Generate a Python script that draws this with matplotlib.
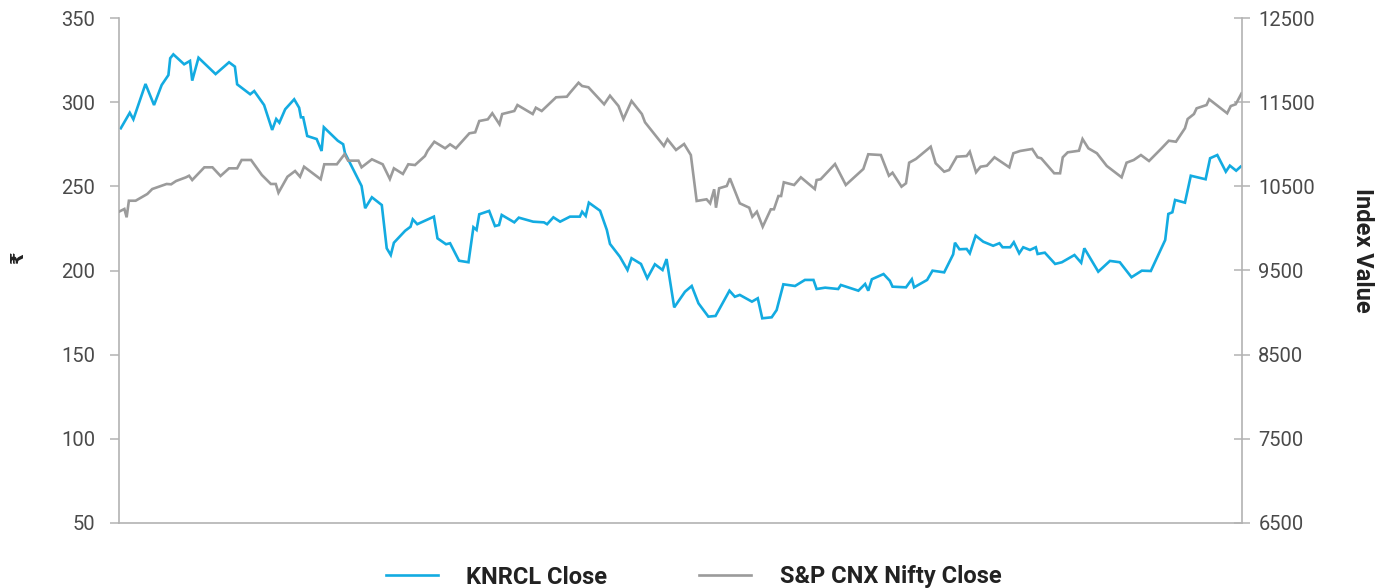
import matplotlib
matplotlib.use("Agg")
import matplotlib.pyplot as plt
from matplotlib.lines import Line2D

# ---------------- data (trading-day index, close values) ----------------
knrcl_day = [0.4, 2.4, 3.2, 5.9, 7.8, 9.5, 11.0, 11.4, 12.1, 14.5, 15.8, 16.3, 17.7, 21.5, 24.5,
             25.8, 26.3, 29.2, 30.1, 32.3, 34.1, 35.0, 35.7, 37.0, 39.0, 40.1, 40.5, 41.0, 41.9, 44.0,
             45.1, 45.6, 48.7, 49.9, 50.3, 54.0, 54.8, 56.3, 58.5, 59.6, 60.5, 61.2, 63.7, 64.9, 65.4,
             66.4, 70.1, 70.9, 72.8, 73.7, 75.7, 77.8, 78.9, 79.6, 80.2, 82.4, 83.7, 84.6, 85.2, 88.0,
             89.0, 92.2, 94.6, 95.3, 96.7, 98.2, 100.4, 102.6, 103.1, 103.9, 104.6, 107.1, 108.6, 109.3,
             111.5, 113.2, 114.1, 116.2, 117.6, 119.3, 121.0, 121.9, 123.6, 126.0, 127.5, 129.0, 131.2,
             132.8, 135.9, 137.1, 138.2, 140.9, 142.2, 143.2, 145.3, 146.4, 147.9, 150.5, 152.7, 154.6,
             155.3, 157.2, 160.1, 160.7, 164.6, 166.1, 166.8, 167.6, 170.2, 171.6, 172.2, 175.2, 176.5,
             177.0, 179.9, 181.1, 183.7, 185.7, 186.1, 187.1, 188.7, 189.4, 190.7, 192.4, 194.6, 196.0,
             196.7, 198.4, 199.2, 200.4, 201.3, 202.8, 204.1, 204.5, 206.1, 208.4, 209.9, 212.7, 214.2,
             214.9, 218.0, 220.6, 222.8, 225.4, 227.7, 229.7, 232.9, 233.6, 234.5, 235.1, 237.3, 238.6,
             241.9, 242.9, 244.5, 246.4, 247.3, 248.7, 249.7]
knrcl_close = [284.5, 293.7, 289.8, 310.8, 298.3, 310.2, 316.1, 326.1, 328.4, 322.5, 324.5, 312.8,
               326.4, 316.7, 323.7, 321.1, 310.6, 304.7, 306.6, 298.3, 283.5, 290.0, 287.8, 295.8,
               301.7, 296.7, 291.0, 291.0, 279.9, 278.1, 271.0, 285.1, 277.1, 275.0, 269.8, 250.2,
               237.0, 243.5, 238.9, 213.2, 209.2, 216.5, 223.6, 226.0, 230.4, 227.5, 232.0, 219.1,
               215.6, 216.2, 205.8, 204.9, 225.7, 224.1, 233.4, 235.4, 226.4, 227.0, 233.0, 228.6,
               231.4, 229.0, 228.6, 227.5, 231.6, 229.0, 232.0, 232.0, 234.9, 232.4, 240.3, 235.5,
               224.1, 215.8, 208.2, 200.3, 207.3, 203.9, 195.4, 203.7, 200.3, 206.8, 178.1, 187.4,
               190.8, 180.5, 172.6, 173.0, 188.0, 184.4, 185.5, 181.5, 183.5, 171.6, 172.2, 176.5,
               191.8, 190.8, 194.4, 194.4, 189.0, 189.8, 189.0, 191.4, 188.0, 192.0, 188.0, 194.8,
               197.9, 193.9, 190.4, 190.0, 194.8, 190.0, 194.4, 199.9, 198.9, 209.6, 216.5, 212.6,
               212.8, 210.2, 220.7, 217.1, 214.7, 216.2, 213.8, 213.8, 216.8, 210.2, 213.8, 212.2,
               213.8, 209.8, 210.6, 203.9, 204.9, 209.2, 204.6, 213.2, 199.3, 205.7, 204.9, 196.0,
               199.9, 199.7, 218.1, 233.6, 234.6, 241.9, 240.3, 256.3, 254.2, 266.7, 268.6, 258.7,
               262.3, 259.3, 261.7]

nifty_day = [0.0, 1.2, 1.7, 2.2, 3.7, 6.3, 7.4, 10.6, 11.6, 12.7, 14.9, 15.6, 16.3, 19.0, 20.8, 22.6,
             24.5, 26.3, 27.3, 29.4, 31.8, 33.8, 34.9, 35.5, 37.5, 39.2, 40.3, 41.2, 44.9, 45.7, 48.5,
             50.2, 51.0, 53.3, 54.0, 56.3, 58.7, 60.3, 61.2, 63.2, 64.4, 65.9, 68.1, 68.7, 70.2, 72.6,
             73.7, 75.0, 78.0, 79.3, 80.2, 82.1, 83.1, 84.7, 85.3, 88.0, 88.7, 92.1, 92.8, 94.1, 97.3,
             99.7, 100.4, 102.3, 103.1, 104.5, 108.0, 109.3, 111.2, 112.3, 114.1, 116.4, 117.1, 121.3,
             122.1, 124.0, 125.8, 127.3, 128.6, 130.8, 131.6, 132.5, 132.9, 133.6, 135.3, 136.0, 138.2,
             140.3, 141.0, 142.0, 143.3, 145.1, 145.8, 146.8, 147.4, 148.0, 150.3, 151.8, 154.9, 155.3,
             156.2, 159.4, 161.8, 165.7, 166.8, 169.6, 171.4, 172.2, 174.2, 175.2, 175.9, 177.4, 180.7,
             181.8, 183.7, 184.8, 186.5, 188.7, 189.4, 190.8, 191.8, 193.2, 194.9, 198.2, 199.1, 200.6,
             203.3, 204.5, 205.3, 208.2, 209.5, 210.1, 211.2, 213.7, 214.5, 215.8, 217.7, 219.9, 223.2,
             224.3, 225.9, 227.5, 229.3, 232.1, 233.7, 235.3, 237.3, 237.9, 239.3, 239.9, 242.1, 242.7,
             246.7, 247.5, 248.6, 249.9]
nifty_close = [10199, 10231, 10132, 10329, 10329, 10409, 10468, 10528, 10524, 10563, 10607, 10626,
               10575, 10726, 10726, 10623, 10714, 10714, 10813, 10813, 10635, 10528, 10528, 10424,
               10614, 10682, 10614, 10733, 10584, 10762, 10762, 10881, 10805, 10805, 10726, 10821,
               10762, 10587, 10714, 10647, 10762, 10753, 10860, 10923, 11030, 10952, 10999, 10952,
               11130, 11142, 11276, 11296, 11368, 11237, 11359, 11395, 11466, 11359, 11434, 11395,
               11558, 11565, 11612, 11731, 11692, 11677, 11475, 11577, 11454, 11300, 11514, 11359,
               11261, 10979, 11059, 10932, 11003, 10872, 10326, 10346, 10298, 10465, 10246, 10477,
               10504, 10595, 10298, 10246, 10139, 10199, 10020, 10227, 10227, 10385, 10385, 10548,
               10516, 10607, 10468, 10575, 10584, 10765, 10516, 10706, 10881, 10872, 10626, 10662,
               10496, 10536, 10781, 10825, 10971, 10774, 10674, 10694, 10852, 10860, 10912, 10667,
               10733, 10745, 10845, 10726, 10893, 10920, 10944, 10845, 10833, 10655, 10655, 10845,
               10904, 10923, 11062, 10952, 10893, 10742, 10607, 10781, 10813, 10872, 10801, 10952,
               11042, 11030, 11190, 11300, 11359, 11427, 11466, 11534, 11368, 11454, 11475, 11605]

left_ticks = [50, 100, 150, 200, 250, 300, 350]
right_ticks = [6500, 7500, 8500, 9500, 10500, 11500, 12500]
series_labels = ["KNRCL Close", "S&P CNX Nifty Close"]

# ---------------- style ----------------
BLUE = "#13ABE1"
GREY = "#9B9B9B"
SPINE = "#B3B3B3"
TICKTXT = "#4A4A4A"

plt.rcParams["font.family"] = ["Roboto", "DejaVu Sans"]

fig = plt.figure(figsize=(13.87, 5.88), dpi=100)
ax = fig.add_axes([119 / 1387, 1 - 523 / 588, (1242 - 119) / 1387, (523 - 18) / 588])
ax2 = ax.twinx()

ax.plot(knrcl_day, knrcl_close, color=BLUE, lw=1.9, solid_joinstyle="miter")
ax2.plot(nifty_day, nifty_close, color=GREY, lw=1.9, solid_joinstyle="miter")

ax.set_xlim(0, 250)
ax.set_ylim(50, 350)
ax2.set_ylim(6500, 12500)
ax.set_yticks(left_ticks)
ax2.set_yticks(right_ticks)
ax.set_xticks([])

for a in (ax, ax2):
    for s in a.spines.values():
        s.set_color(SPINE)
        s.set_linewidth(1.2)
    a.spines["top"].set_visible(False)
ax.spines["right"].set_visible(False)
ax2.spines["left"].set_visible(False)
ax2.spines["bottom"].set_visible(False)

ax.tick_params(axis="y", direction="out", length=6.5, width=1.1, color=SPINE,
               labelsize=14.5, labelcolor=TICKTXT, pad=10.5)
ax2.tick_params(axis="y", direction="inout", length=11.5, width=1.1, color=SPINE,
                labelsize=14.5, labelcolor=TICKTXT, pad=6)

fig.text(18 / 1387, 1 - 258 / 588, "\u20b9", rotation=90, ha="center", va="center",
         fontsize=13, fontweight="bold", color="#222222", family=["DejaVu Sans"])
fig.text(1362 / 1387, 1 - 250 / 588, "Index Value", rotation=270, ha="center", va="center",
         fontsize=17, fontweight="bold", color="#222222")

handles = [Line2D([], [], color=BLUE, lw=1.9), Line2D([], [], color=GREY, lw=1.9)]
leg = fig.legend(handles, series_labels, loc="center", bbox_to_anchor=(0.5, 1 - 577 / 588),
                 ncol=2, frameon=False, handlelength=2.2, handletextpad=1.2, columnspacing=3.9,
                 prop={"size": 17, "weight": "bold"})
for t in leg.get_texts():
    t.set_color("#222222")

fig.savefig("out.png", dpi=100)
